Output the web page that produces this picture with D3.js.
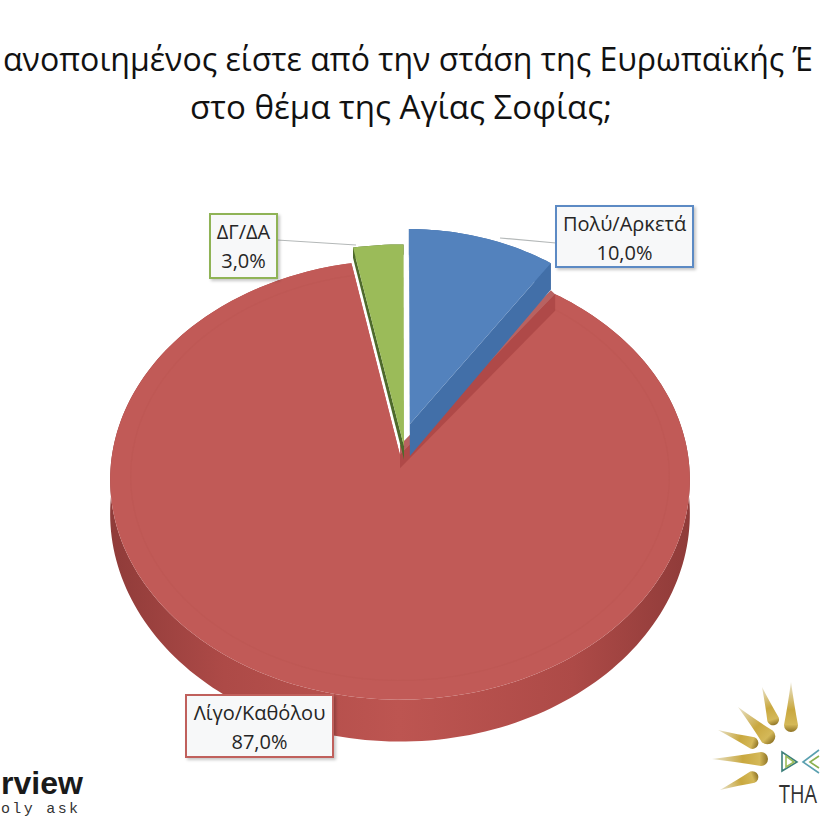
<!DOCTYPE html>
<html><head><meta charset="utf-8">
<script src="https://cdn.jsdelivr.net/npm/d3@7/dist/d3.min.js"></script>
<style>html,body{margin:0;padding:0;background:#fff;overflow:hidden}svg{display:block}</style>
</head><body><svg id="c" width="820" height="820"></svg>
<script>
const categories = ["Πολύ/Αρκετά", "Λίγο/Καθόλου", "ΔΓ/ΔΑ"];
const values = [10.0, 87.0, 3.0];
const titleLines = ["ανοποιημένος είστε από την στάση της Ευρωπαϊκής Έ", "στο θέμα της Αγίας Σοφίας;"];

const svg = d3.select("#c");
const defs = svg.append("defs");
const fmt = v => v.toFixed(1).replace(".", ",") + "%";

// perspective disc
const view = {cx: 400, cy: 455, A: 288, B: 217, k: 0.113, D: 33};
const sliceStyle = [
  {top: "#5382bd", wall: "#426fa8", line: "#5b8ac4", dx: .035, dy: .145, rx: .93, ry: 1.035, drop: 1},
  {top: "#c15a57", wall: "url(#redWall)", line: "#c0605c", dx: 0, dy: 0, rx: 1, ry: 1, drop: 1},
  {top: "#9bbb59", wall: "#4e6a2b", line: "#8fb356", dx: .014, dy: .04, rx: 1.05, ry: 1.05, drop: .4}
];
const wOf = y => 1 + view.k * y;
const project = (x, y, drop = 0) => {
  const w = wOf(y);
  return [view.cx + view.A * x / w, view.cy - view.B * y / w + drop * view.D / (w * w)];
};
const rim = (s, a, r = 1) => [s.dx + s.rx * r * Math.sin(a), s.dy + s.ry * r * Math.cos(a)];
const line = d3.line();

const grad = defs.append("linearGradient").attr("id", "redWall")
  .attr("gradientUnits", "userSpaceOnUse").attr("x1", 108).attr("x2", 690).attr("y1", 0).attr("y2", 0);
[[0, "#8f3b39"], [.2, "#ad4a47"], [.5, "#bd5551"], [.8, "#ad4a47"], [1, "#8f3b39"]]
  .forEach(d => grad.append("stop").attr("offset", d[0]).attr("stop-color", d[1]));
const shadow = defs.append("filter").attr("id", "sh").attr("x", "-10%").attr("y", "-10%").attr("width", "125%").attr("height", "130%");
shadow.append("feDropShadow").attr("dx", 2).attr("dy", 2).attr("stdDeviation", 1.5).attr("flood-color", "#000").attr("flood-opacity", .22);
const gold = defs.append("linearGradient").attr("id", "gold")
  .attr("x1", 0).attr("x2", 1).attr("y1", 0).attr("y2", 0);
[[0, "#e9e4cf"], [.55, "#c9a83f"], [.85, "#d4b858"], [1, "#8f7426"]]
  .forEach(d => gold.append("stop").attr("offset", d[0]).attr("stop-color", d[1]));

const arcs = d3.pie().sort(null).value(d => d).startAngle(0).endAngle(2 * Math.PI)(values);
const outline = (d, i, r = 1) => {
  const s = sliceStyle[i];
  const n = Math.max(8, Math.ceil((d.endAngle - d.startAngle) * 40));
  const ang = d3.range(n + 1).map(j => d.startAngle + (d.endAngle - d.startAngle) * j / n);
  return ang.map(a => rim(s, a, r));
};

const g = svg.append("g");
[1, 0, 2].forEach(i => {
  const d = arcs[i], s = sliceStyle[i];
  const ring = outline(d, i);
  const pts = [[s.dx, s.dy], ...ring];
  const at = (p, drop) => project(p[0], p[1], drop);
  // side wall: outer rim as one shape, then the two straight edges
  const wallShapes = [
    [...ring.map(p => at(p, 0)), ...ring.slice().reverse().map(p => at(p, s.drop))],
    [at(pts[0], 0), at(ring[0], 0), at(ring[0], s.drop), at(pts[0], s.drop)],
    [at(pts[0], 0), at(ring[ring.length - 1], 0), at(ring[ring.length - 1], s.drop), at(pts[0], s.drop)]
  ];
  wallShapes.forEach(w => g.append("path").attr("d", line(w) + "Z").attr("fill", s.wall));
  // top face
  g.append("path").attr("d", line(pts.map(p => at(p, 0))) + "Z").attr("fill", s.top);
  if (i === 1) {
    // faint bevel ring
    g.append("path").attr("d", line(outline(d, i, .93).map(p => at(p, 0))))
      .attr("fill", "none").attr("stroke", "#b5504d").attr("stroke-opacity", .22).attr("stroke-width", 1.2);
    // shaded band under the neighbouring slice, running up behind its wall
    const e = rim(s, d.startAngle), e2 = rim(s, d.startAngle, .97);
    g.append("path").attr("d", line([at([0, 0], -.3), at(e2, -.3), at(e, 0), at(e, .6), at([0, 0], .4)]) + "Z")
      .attr("fill", "#ab4745").attr("opacity", .85);
  }
});

// leader lines
const leaders = [
  [[556, 243], [500, 238]],
  [[277, 240], [356, 245]]
];
leaders.forEach(l => g.append("path").attr("d", line(l)).attr("fill", "none").attr("stroke", "#b4b8b8").attr("stroke-width", 1.2));

// data labels
const labelBox = [
  {x: 556, y: 206, w: 137, h: 61},
  {x: 186, y: 695, w: 147, h: 62},
  {x: 210, y: 214, w: 67, h: 64}
];
arcs.forEach((d, i) => {
  const b = labelBox[i], s = sliceStyle[i];
  g.append("rect").attr("x", b.x).attr("y", b.y).attr("width", b.w).attr("height", b.h)
    .attr("fill", "#f7f8f9").attr("stroke", s.line).attr("stroke-width", 2).attr("filter", "url(#sh)");
  const t = g.append("text").attr("text-anchor", "middle").attr("font-family", "Open Sans, sans-serif")
    .attr("font-size", 20).attr("fill", "#262626");
  t.append("tspan").attr("x", b.x + b.w / 2).attr("y", b.y + 25).text(categories[i]);
  t.append("tspan").attr("x", b.x + b.w / 2).attr("y", b.y + 54).text(fmt(values[i]));
});

// title
titleLines.forEach((tl, i) => {
  svg.append("text").attr("x", i ? 190 : 3).attr("y", i ? 119 : 71)
    .attr("font-family", "Open Sans, sans-serif").attr("font-size", 33).attr("fill", "#111")
    .attr("textLength", i ? 422 : 810).attr("lengthAdjust", "spacingAndGlyphs").text(tl);
});

// logos
svg.append("text").attr("x", 1).attr("y", 794)
  .attr("font-family", "Liberation Sans, sans-serif").attr("font-weight", 700).attr("font-size", 31).attr("fill", "#1a1a1a")
  .attr("textLength", 82).attr("lengthAdjust", "spacingAndGlyphs").text("rview");
svg.append("text").attr("x", 1).attr("y", 813)
  .attr("font-family", "Liberation Mono, monospace").attr("font-size", 15).attr("fill", "#333")
  .attr("textLength", 77).attr("lengthAdjust", "spacing").text("oly ask");
const rays = [[791,682,791,732,7],[762,687,775,725,6],[738,707,773,742,8],[718,730,758,745,6],[712,759,768,759,7],[720,790,758,775,6]];
rays.forEach(r => {
  const L = Math.hypot(r[2] - r[0], r[3] - r[1]), ang = Math.atan2(r[3] - r[1], r[2] - r[0]) * 180 / Math.PI, h = r[4];
  svg.append("path").attr("transform", `translate(${r[0]},${r[1]}) rotate(${ang})`)
    .attr("d", `M0,0 Q${L * .5},${-h * .5} ${L - h},${-h} A${h},${h} 0 1 1 ${L - h},${h} Q${L * .5},${h * .5} 0,0Z`)
    .attr("fill", "url(#gold)");
});
const bf = svg.append("g").attr("fill", "none").attr("stroke-width", 1.6);
[["M782,752 L782,771 L797,762Z", "#3c7f7a"], ["M786,756 L786,767 L794,762Z", "#9bbb59"], ["M819,750 L803,762 L819,773", "#5aa0b0"], ["M819,756 L810,762 L819,768", "#8bb04f"]]
  .forEach(p => bf.append("path").attr("d", p[0]).attr("stroke", p[1]));
svg.append("text").attr("x", 779).attr("y", 803).attr("font-family", "Open Sans, sans-serif")
  .attr("font-size", 26).attr("fill", "#333").attr("textLength", 38).attr("lengthAdjust", "spacingAndGlyphs").text("THA");
</script></body></html>
